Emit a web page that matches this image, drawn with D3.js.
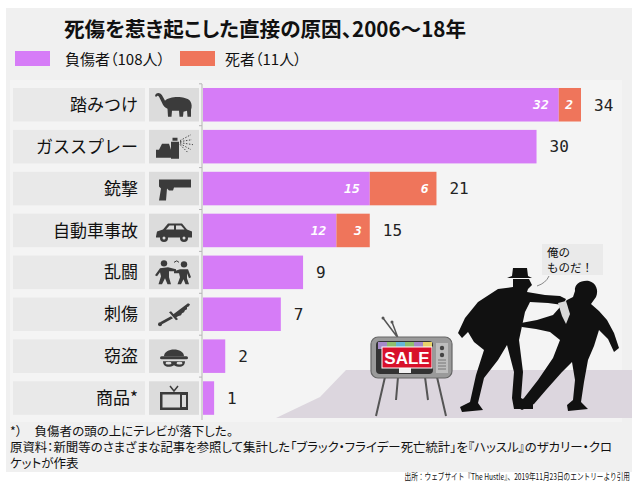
<!DOCTYPE html>
<html>
<head>
<meta charset="utf-8">
<script src="https://cdn.jsdelivr.net/npm/d3@7"></script>
<style>
  html, body { margin: 0; padding: 0; background: #ffffff; }
  svg { display: block; font-family: "Noto Sans CJK JP", "Noto Sans", sans-serif; }
  .num { font-family: "DejaVu Sans Mono", monospace; }
  .palt { font-feature-settings: "palt"; }
</style>
</head>
<body>
<div id="chart"></div>
<script>
// chart data
const categories = ['踏みつけ', 'ガススプレー', '銃撃', '自動車事故', '乱闘', '刺傷', '窃盗', '商品*'];
const injured = [32, 30, 15, 12, 9, 7, 2, 1];
const deaths = [2, 0, 6, 3, 0, 0, 0, 0];
const iconNames = ['elephant', 'spray', 'gun', 'car', 'fight', 'knife', 'burglar', 'tv'];
const legendLabels = ['負傷者（108人）', '死者（11人）'];

const W = 639, H = 484;
const colors = { injured: '#d67cf7', deaths: '#ef755b', icon: '#3b3b3b' };

const svg = d3.select('#chart').append('svg').attr('width', W).attr('height', H);

// backgrounds
svg.append('rect').attr('x', 6).attr('y', 8).attr('width', 626).attr('height', 464).attr('fill', '#f0f0f0');
svg.append('rect').attr('x', 10).attr('y', 80).attr('width', 612).attr('height', 342).attr('fill', '#f4f4f4');

// floor of the illustration
svg.append('path')
  .attr('d', 'M346,370 L632,370 L632,418 L276,418 L320,397 Z')
  .attr('fill', '#dcd6de');

// title
svg.append('text').attr('class', 'palt')
  .attr('x', 64).attr('y', 37)
  .attr('font-size', 20.6).attr('font-weight', 700).attr('fill', '#111')
  .text('死傷を惹き起こした直接の原因、2006～18年');

// legend
const legend = svg.append('g');
[[15, colors.injured, 65], [180, colors.deaths, 225]].forEach((d, i) => {
  legend.append('rect').attr('x', d[0]).attr('y', 51).attr('width', 35).attr('height', 15).attr('fill', d[1]);
  legend.append('text').attr('class', 'palt').attr('x', d[2]).attr('y', 65).attr('font-size', 15).attr('fill', '#111')
    .text(legendLabels[i]);
});

// scales
const y = d3.scaleBand().domain(categories).range([83.8, 419]).paddingInner(0.2).paddingOuter(0.1);
const x = d3.scaleLinear().domain([0, 34]).range([203, 581]);

const rows = categories.map((c, i) => ({
  cat: c, injured: injured[i], deaths: deaths[i], total: injured[i] + deaths[i], icon: iconNames[i]
}));

// category label boxes and icon boxes
svg.selectAll('rect.lab').data(rows).join('rect').attr('class', 'lab')
  .attr('x', 13).attr('width', 132)
  .attr('y', d => y(d.cat)).attr('height', y.bandwidth())
  .attr('fill', '#e9e9e9');
svg.selectAll('rect.ico').data(rows).join('rect').attr('class', 'ico')
  .attr('x', 149).attr('width', 50)
  .attr('y', d => y(d.cat)).attr('height', y.bandwidth())
  .attr('fill', '#dcdcdc');
svg.selectAll('text.cat').data(rows).join('text').attr('class', 'cat')
  .attr('x', 138).attr('y', d => y(d.cat) + y.bandwidth() / 2)
  .attr('dy', '0.36em').attr('text-anchor', 'end')
  .attr('font-size', 17).attr('fill', '#111')
  .text(d => d.cat);

// axis line with small ticks between rows
const axis = d3.axisLeft(y).tickSize(3).tickFormat('');
const axisG = svg.append('g').attr('transform', 'translate(202,0)').call(axis);
axisG.select('.domain').attr('stroke', '#b5b5b5').attr('d', 'M0,84V420');
axisG.selectAll('.tick').attr('transform', d => `translate(0,${y(d) - (y.step() - y.bandwidth()) / 2})`);
axisG.selectAll('.tick line').attr('stroke', '#b5b5b5');

// bars
svg.selectAll('rect.inj').data(rows).join('rect').attr('class', 'inj')
  .attr('x', x(0)).attr('y', d => y(d.cat))
  .attr('width', d => x(d.injured) - x(0)).attr('height', y.bandwidth())
  .attr('fill', colors.injured);
svg.selectAll('rect.dth').data(rows.filter(d => d.deaths > 0)).join('rect').attr('class', 'dth')
  .attr('x', d => x(d.injured)).attr('y', d => y(d.cat))
  .attr('width', d => x(d.total) - x(d.injured)).attr('height', y.bandwidth())
  .attr('fill', colors.deaths);

// inside labels for stacked rows
const stacked = rows.filter(d => d.deaths > 0);
svg.selectAll('text.inl').data(stacked).join('text').attr('class', 'inl num')
  .attr('x', d => x(d.injured) - 10).attr('y', d => y(d.cat) + y.bandwidth() / 2)
  .attr('dy', '0.36em').attr('text-anchor', 'end')
  .attr('font-size', 13).attr('font-weight', 700).attr('font-style', 'italic').attr('fill', '#fff')
  .text(d => d.injured);
svg.selectAll('text.dtl').data(stacked).join('text').attr('class', 'dtl num')
  .attr('x', d => x(d.total) - 8).attr('y', d => y(d.cat) + y.bandwidth() / 2)
  .attr('dy', '0.36em').attr('text-anchor', 'end')
  .attr('font-size', 13).attr('font-weight', 700).attr('font-style', 'italic').attr('fill', '#fff')
  .text(d => d.deaths);

// totals
svg.selectAll('text.tot').data(rows).join('text').attr('class', 'tot num')
  .attr('x', d => x(d.total) + 13).attr('y', d => y(d.cat) + y.bandwidth() / 2)
  .attr('dy', '0.36em')
  .attr('font-size', 16).attr('fill', '#222')
  .text(d => d.total);

// icons, drawn in a 40x28 box
const icons = {
  elephant: g => {
    g.append('path').attr('d', 'M11,10 C16,5 31,5 36,10 C38,13 38,16 37,19 L37,26 L33.5,26 L33,20 L29.5,21 L29,26 L25.5,26 L25,20 L18,20 L17.5,26 L14,26 L13.5,18 C11,17 9,15 8,12 L6,8 C5,5.5 3.5,4 2.5,6 L1,5.5 C1.5,2 5.5,1 8,4.5 L10,8 Z');
  },
  spray: g => {
    g.append('path').attr('d', 'M2,17 L2,25 L22,25 L22,20 L17,20 L17,17 L15,11 L8,11 L5,17 Z');
    g.append('path').attr('d', 'M17,9 L25,9 L25,26 L17,26 Z M18.5,5 L23.5,5 L23.5,8 L18.5,8 Z');
    g.append('path').attr('d', 'M26,8 L37,2 M26,9 L38,7 M26,10 L39,12 M26,11 L37,17 M26,12 L34,20')
      .attr('stroke', colors.icon).attr('stroke-width', 0.9).attr('stroke-dasharray', '1.5,1.5').attr('fill', 'none');
  },
  gun: g => {
    g.append('path').attr('d', 'M5,5 L37,5 L37,13 L20,13 L19,16 L15,16 L13,14 L12,26 L5,26 L7,14 L5,12 Z');
  },
  car: g => {
    g.append('path').attr('d', 'M2,20 L3,15 L9,13 L14,7 L28,7 L33,13 L38,15 L38,21 L2,21 Z');
    g.append('path').attr('d', 'M15.5,9 L20,9 L20,13 L12,13 Z M22,9 L27,9 L30.5,13 L22,13 Z').attr('fill', '#dcdcdc');
    g.append('circle').attr('cx', 10).attr('cy', 21.5).attr('r', 4);
    g.append('circle').attr('cx', 30).attr('cy', 21.5).attr('r', 4);
    g.append('circle').attr('cx', 10).attr('cy', 21.5).attr('r', 1.5).attr('fill', '#dcdcdc');
    g.append('circle').attr('cx', 30).attr('cy', 21.5).attr('r', 1.5).attr('fill', '#dcdcdc');
  },
  fight: g => {
    g.append('circle').attr('cx', 10).attr('cy', 5).attr('r', 3.2);
    g.append('circle').attr('cx', 30).attr('cy', 6).attr('r', 3.2);
    g.append('path').attr('d', 'M6,10 L14,9 L22,11 L22,13 L15,13 L15,19 L17,26 L13.5,26 L11,20 L8,26 L4.5,26 L7,18 L6,14 L3,18 L1,17 Z');
    g.append('path').attr('d', 'M26,11 L34,11 L37,19 L35,20 L33,15 L33,20 L35,26 L31.5,26 L29.5,21 L27,26 L23.5,26 L26,19 L25,15 L20,15 L20,13 Z');
    g.append('path').attr('d', 'M20,4 Q23,1 25,4').attr('fill', 'none').attr('stroke', colors.icon).attr('stroke-width', 1);
  },
  knife: g => {
    g.append('path').attr('d', 'M18,15 L34,3 L36,4 L35,6 L33,7 L33,9 L31,10 L30,12 L28,13 L27,15 L24,16 L21,18 Z');
    g.append('path').attr('d', 'M15,12 L17,11 L24,19 L22,20 Z');
    g.append('path').attr('d', 'M17,16 L19,18 L8,24 L6,22 Z');
    g.append('circle').attr('cx', 6).attr('cy', 24).attr('r', 2);
  },
  burglar: g => {
    g.append('path').attr('d', 'M10,14 C10,5 30,5 30,14 Z');
    g.append('rect').attr('x', 6).attr('y', 14).attr('width', 28).attr('height', 3).attr('rx', 1.5);
    g.append('path').attr('d', 'M9,19 L31,19 C31,25 25,26 20,23 C15,26 9,25 9,19 Z');
    g.append('ellipse').attr('cx', 14.5).attr('cy', 21).attr('rx', 3).attr('ry', 1.4).attr('fill', '#dcdcdc');
    g.append('ellipse').attr('cx', 25.5).attr('cy', 21).attr('rx', 3).attr('ry', 1.4).attr('fill', '#dcdcdc');
  },
  tv: g => {
    g.append('path').attr('d', 'M6,8 L34,8 L34,26 L6,26 Z M8.5,10.5 L26,10.5 L26,23.5 L8.5,23.5 Z M28,11 L32,11 L32,23 L28,23 Z')
      .attr('fill-rule', 'evenodd');
    g.append('path').attr('d', 'M16,2 L20,7 L24,2').attr('fill', 'none').attr('stroke', colors.icon).attr('stroke-width', 1.5);
    g.append('circle').attr('cx', 30).attr('cy', 14).attr('r', 1).attr('fill', '#dcdcdc');
    g.append('circle').attr('cx', 30).attr('cy', 17.5).attr('r', 1).attr('fill', '#dcdcdc');
  }
};
rows.forEach(d => {
  const g = svg.append('g')
    .attr('transform', `translate(154,${y(d.cat) + y.bandwidth() / 2 - 14})`)
    .attr('fill', colors.icon);
  icons[d.icon](g);
});

// illustration: TV on legs
const tv = svg.append('g');
tv.append('path').attr('d', 'M385,377 L376,416 M437,377 L446,416 M398,377 L396,400 M425,377 L428,400')
  .attr('stroke', '#555').attr('stroke-width', 2).attr('fill', 'none');
tv.append('path').attr('d', 'M398,338 L383,318 M398,338 L392,322')
  .attr('stroke', '#555').attr('stroke-width', 1.5).attr('fill', 'none');
tv.append('circle').attr('cx', 383).attr('cy', 318).attr('r', 1.5).attr('fill', '#555');
tv.append('circle').attr('cx', 392).attr('cy', 322).attr('r', 1.5).attr('fill', '#555');
tv.append('rect').attr('x', 371).attr('y', 337).attr('width', 81).attr('height', 41).attr('rx', 7)
  .attr('fill', '#9a9a9a').attr('stroke', '#666').attr('stroke-width', 1.2);
tv.append('rect').attr('x', 376).attr('y', 341).attr('width', 57).attr('height', 33).attr('rx', 4).attr('fill', '#333');
const barCols = ['#a58ac9', '#8fbf6e', '#66b6d6', '#8fbf6e', '#a58ac9', '#e8d36a'];
barCols.forEach((c, i) => {
  tv.append('rect').attr('x', 378 + i * 9).attr('y', 342).attr('width', 9).attr('height', 7).attr('fill', c);
});
tv.append('rect').attr('x', 399).attr('y', 366).attr('width', 12).attr('height', 7).attr('fill', '#f2f2f2');
tv.append('rect').attr('x', 382).attr('y', 347).attr('width', 50).attr('height', 21).attr('fill', '#d8102a')
  .attr('stroke', '#fff').attr('stroke-width', 1);
tv.append('text').attr('x', 407).attr('y', 364).attr('text-anchor', 'middle')
  .attr('font-family', 'Liberation Sans, Arial, sans-serif').attr('font-weight', 700).attr('font-size', 17)
  .attr('fill', '#fff').text('SALE');
tv.append('rect').attr('x', 436).attr('y', 343).attr('width', 12).attr('height', 30).attr('fill', '#bdbdbd');
tv.append('circle').attr('cx', 442).attr('cy', 348).attr('r', 2.2).attr('fill', '#444');
tv.append('circle').attr('cx', 442).attr('cy', 355).attr('r', 2.2).attr('fill', '#444');
[360, 363, 366, 369].forEach(v => {
  tv.append('line').attr('x1', 438).attr('x2', 446).attr('y1', v).attr('y2', v).attr('stroke', '#777');
});

// illustration: two silhouettes fighting over the TV
const figs = svg.append('g').attr('fill', '#111');
figs.append('path').attr('d',
  'M507,278 L532,278 L528,276 L527,268 L513,268 L512,276 Z ' +
  'M513,279 L529,279 L532,285 L528,289 L527,292 L545,295 L560,296 L566,299 L563,305 L548,303 L530,302 L525,312 L519,340 L523,372 L521,398 L533,404 L533,409 L514,409 L512,398 L514,372 L507,345 L498,360 L484,378 L478,403 L483,410 L462,412 L460,407 L470,402 L476,375 L484,350 L474,342 L468,332 L462,338 L458,333 L465,318 L478,302 L498,289 L513,287 Z');
figs.append('path').attr('d',
  'M575,291 C574,284 581,280 589,281 C596,283 599,290 596,297 L591,304 L599,311 L607,320 L614,333 L619,348 L614,352 L608,339 L599,330 L594,346 L588,360 L584,382 L581,402 L588,409 L568,411 L567,405 L573,400 L575,380 L572,362 L562,372 L546,390 L534,404 L522,410 L515,406 L524,398 L538,380 L553,358 L560,340 L550,332 L536,329 L522,327 L521,323 L537,320 L553,315 L561,306 L567,300 L573,297 Z');
figs.append('path').attr('d', 'M558,303 L566,301 L570,314 L566,324 L562,316 Z').attr('fill', '#d9d9d9');

// speech bubble
svg.append('rect').attr('x', 542).attr('y', 244).attr('width', 61).attr('height', 31).attr('fill', '#eaeaea');
svg.append('path').attr('d', 'M549,276 Q546,283 537,286').attr('fill', 'none').attr('stroke', '#888').attr('stroke-width', 1);
svg.append('text').attr('x', 547).attr('y', 257).attr('font-size', 11.5).attr('fill', '#111').text('俺の');
svg.append('text').attr('x', 547).attr('y', 272).attr('font-size', 11.5).attr('fill', '#111').text('ものだ！');

// notes
const notes = [
  '*）　負傷者の頭の上にテレビが落下した。',
  '原資料：新聞等のさまざまな記事を参照して集計した「ブラック・フライデー死亡統計」を『ハッスル』のザカリー・クロ',
  'ケットが作表'
];
const noteWidths = [null, 602, null];
notes.forEach((t, i) => {
  const el = svg.append('text').attr('class', 'palt').attr('x', 10).attr('y', 436 + i * 16)
    .attr('font-size', 12.5).attr('fill', '#111')
    .text(t);
  if (noteWidths[i]) el.attr('textLength', noteWidths[i]).attr('lengthAdjust', 'spacingAndGlyphs');
});

// source line, horizontally condensed
svg.append('g').attr('transform', 'translate(630,480) scale(0.74,1)')
  .append('text').attr('x', 0).attr('y', 0).attr('text-anchor', 'end')
  .attr('font-size', 9).attr('fill', '#111')
  .text('出所：ウェブサイト『The Hustle』、2019年11月23日のエントリーより引用');
</script>
</body>
</html>
